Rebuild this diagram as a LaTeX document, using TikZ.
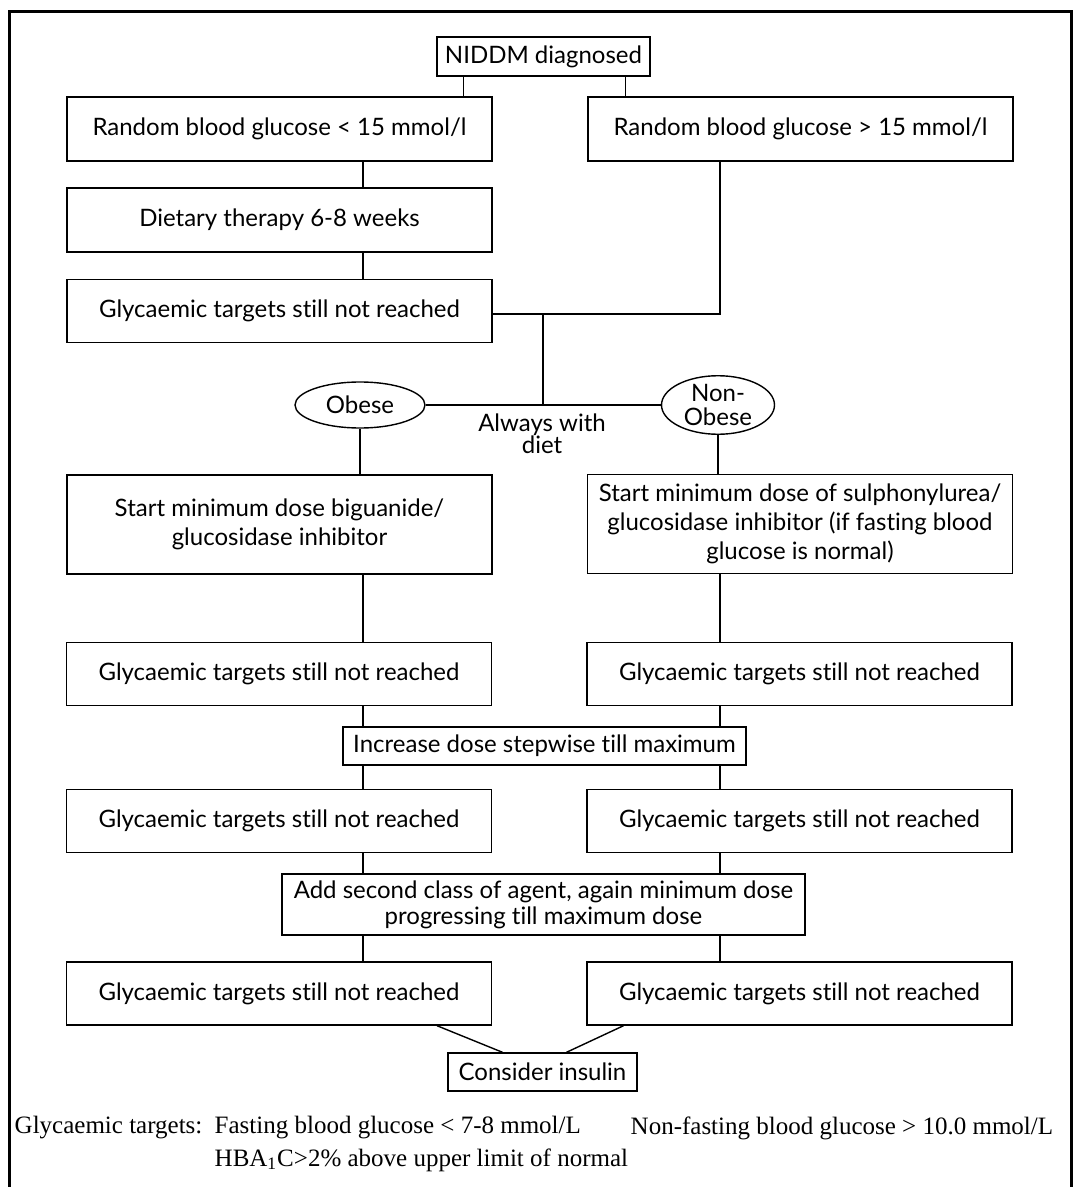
\documentclass[tikz,border=0pt]{standalone}
\usepackage{fontspec}
\setmainfont{Liberation Serif}
\newfontfamily\boxfont[Ligatures=NoCommon]{Lato}
\usepackage{tikz}
\usetikzlibrary{shapes.geometric}

\begin{document}
\begin{tikzpicture}[x=0.5pt,y=-0.5pt,
    line width=0.7pt,
    box/.style={draw,rectangle,align=center,inner sep=2pt,font=\boxfont\fontsize{12}{14.5}\selectfont},
    col/.style={box,minimum width=212.5pt,minimum height=31.5pt},
    oval/.style={draw,ellipse,align=center,inner sep=0pt,font=\boxfont\fontsize{12}{12}\selectfont},
    note/.style={anchor=west,inner sep=0pt,font=\fontsize{12.5}{14}\selectfont}]
    \useasboundingbox (0,0) rectangle (1072,1187);
    \draw[line width=1.5pt] (9,1200) -- (9,12) -- (1071,12) -- (1071,1200);

    % spines of the two columns
    \coordinate (ls) at (363,0);
    \coordinate (rs) at (720,0);
    \coordinate (ms) at (543,0);

    \node[box,minimum width=106.5pt,minimum height=19.5pt] (dx) at (543.5,56.5) {NIDDM diagnosed};
    \node[col,minimum height=32pt] (L1) at (279.5,129) {Random blood glucose < 15 mmol/l};
    \node[col,minimum height=32pt] (R1) at (800.5,129) {Random blood glucose > 15 mmol/l};
    \node[col,minimum height=32pt] (L2) at (279.5,220) {Dietary therapy 6-8 weeks};
    \node[col] (L3) at (279.5,311) {Glycaemic targets still not reached};

    \node[oval,minimum width=65pt,minimum height=23pt] (ob) at (360,405) {Obese};
    \node[oval,minimum width=56.5pt,minimum height=26.5pt] (nob) at (718,405) {Non-\\Obese};
    \node[align=center,inner sep=0pt,font=\boxfont\fontsize{12}{11}\selectfont] (aw) at (542,434) {Always with\\diet};

    \node[col,minimum height=49.5pt] (L4) at (279.5,524.5) {Start minimum dose biguanide/\\glucosidase inhibitor};
    \node[col,minimum height=49.5pt] (R4) at (800,524) {Start minimum dose of sulphonylurea/\\glucosidase inhibitor (if fasting blood\\glucose is normal)};

    \foreach \n/\y in {5/674,6/821,7/993.5}{
        \node[col] (L\n) at (279,\y) {Glycaemic targets still not reached};
        \node[col] (R\n) at (799.5,\y) {Glycaemic targets still not reached};
    }

    \node[box,minimum width=201.5pt,minimum height=19pt] (inc) at (544.5,746) {Increase dose stepwise till maximum};
    \node[box,minimum width=261.5pt,minimum height=30.5pt,font=\boxfont\fontsize{12}{13}\selectfont] (add) at (543.5,904.5) {Add second class of agent, again minimum dose\\progressing till maximum dose};
    \node[box,minimum width=94.5pt,minimum height=19pt] (ins) at (542.5,1072) {Consider insulin};

    % connectors
    \draw ([xshift=-40pt]dx.south) -- ([xshift=-40pt]dx.south |- L1.north);
    \draw ([xshift=41pt]dx.south) -- ([xshift=41pt]dx.south |- R1.north);
    \draw (L1.south -| ls) -- (L2.north -| ls);
    \draw (L2.south -| ls) -- (L3.north -| ls);
    \draw (R1.south -| rs) |- ([yshift=-1.5pt]L3.east);
    \draw ([yshift=-1.5pt]L3.east -| ms) -- (ob.east -| ms);
    \draw (ob) -- (nob);
    \draw (ob.south) -- (L4.north -| ob.south);
    \draw (nob.south) -- (R4.north -| nob.south);

    \foreach \a/\b in {L4/L5,L5/inc,inc/L6,L6/add,add/L7}{
        \draw (\a.south -| ls) -- (\b.north -| ls);
    }
    \foreach \a/\b in {R4/R5,R5/inc,inc/R6,R6/add,add/R7}{
        \draw (\a.south -| rs) -- (\b.north -| rs);
    }

    \draw ([xshift=79pt]L7.south) -- ([xshift=-20pt]ins.north);
    \draw ([xshift=-88pt]R7.south) -- ([xshift=12pt]ins.north);

    % footnote
    \node[note] (gt) at (14,1128) {Glycaemic targets:};
    \node[note] (fb) at (214,1128) {Fasting blood glucose < 7-8 mmol/L};
    \node[note] (nf) at (630,1128) {Non-fasting blood glucose > 10.0 mmol/L};
    \node[note] (hb) at (214,1160) {HBA\textsubscript{1}C>2\% above upper limit of normal};
\end{tikzpicture}
\end{document}
